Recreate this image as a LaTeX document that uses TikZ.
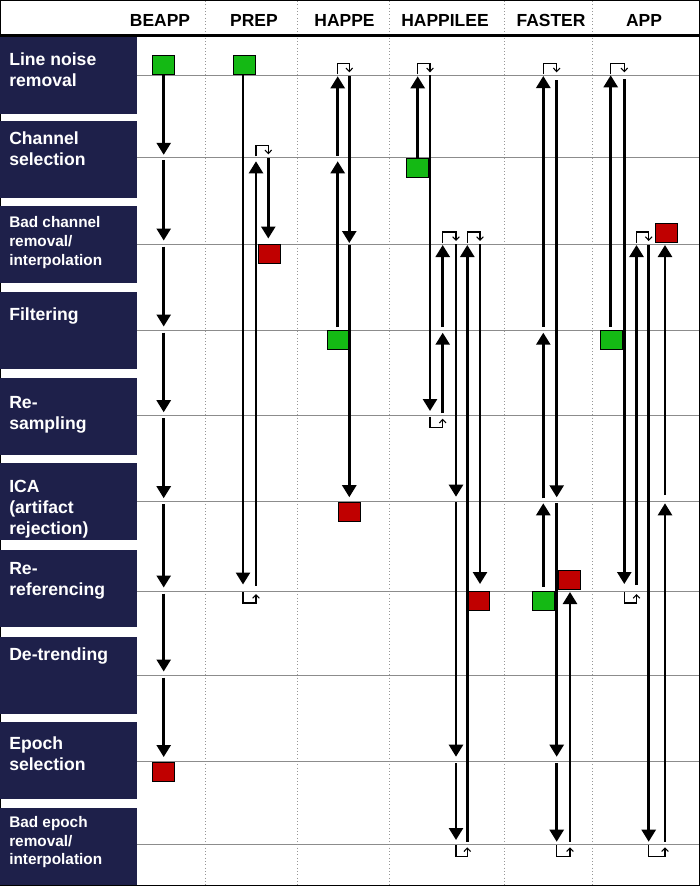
\documentclass[tikz,border=0pt]{standalone}
\usepackage{fontspec}
\setmainfont{Liberation Sans}
\usetikzlibrary{arrows.meta,calc}
\definecolor{navy}{RGB}{30,32,74}
\definecolor{gfill}{RGB}{20,185,20}
\definecolor{rfill}{RGB}{192,0,0}
\definecolor{gridgray}{RGB}{140,140,140}
\definecolor{divgray}{RGB}{150,150,150}
\newcommand\Arr[5]{\draw[mainarrow] ($(#1|-#2)+(0,#3)$) -- ($(#1|-#4)+(0,#5)$);}
\newcommand\LoopTop[3]{\draw[loopline] ($(#1|-#3)+(0,-1)$) -- ($(#1|-#3)+(0,-12)$) -| ($(#2|-#3)+(0,-3)$);}
\newcommand\LoopBot[3]{\draw[loopline] ($(#1|-#3)+(0,1)$) -- ($(#1|-#3)+(0,12)$) -| ($(#2|-#3)+(0,3)$);}
\newcommand\fst{\rule{0pt}{12pt}}
\begin{document}
\begin{tikzpicture}[x=0.75pt,y=-0.75pt,
  mainarrow/.style={line width=1.9pt,-{Triangle[width=10.5pt,length=9pt]}},
  loopline/.style={line width=0.8pt,-{Straight Barb[width=5pt,length=2.6pt,line width=0.8pt]}},
  sq/.style={draw=black,line width=0.75pt,minimum width=16.5pt,minimum height=14.25pt,inner sep=0pt},
  gsq/.style={sq,fill=gfill},
  rsq/.style={sq,fill=rfill},
  hdr/.style={font=\bfseries\fontsize{13.1}{15}\selectfont,anchor=base,inner sep=0pt},
  lab/.style={font=\bfseries\fontsize{13.2}{15.75}\selectfont,text=white,align=left,anchor=north west,inner sep=0pt},
  labs/.style={font=\bfseries\fontsize{11.5}{13.9}\selectfont,text=white,align=left,anchor=north west,inner sep=0pt},
  gridline/.style={gridgray,line width=0.75pt},
  divider/.style={divgray,line width=0.5pt,dotted},
]
\useasboundingbox (0,0) rectangle (700,886);
\fill[white] (0,0) rectangle (700,886);

% rows (step lines) and lanes
\coordinate (L0) at (0,75.3);
\coordinate (L1) at (0,157.3);
\coordinate (L2) at (0,244);
\coordinate (L3) at (0,330);
\coordinate (L4) at (0,415.7);
\coordinate (L5) at (0,501.7);
\coordinate (L6) at (0,591);
\coordinate (L7) at (0,675);
\coordinate (L8) at (0,761.5);
\coordinate (L9) at (0,844.3);

\coordinate (be) at (163.7,0);
\coordinate (prA) at (243,0);
\coordinate (prB) at (256,0);
\coordinate (prC) at (268.3,0);
\coordinate (haA) at (337.7,0);
\coordinate (haB) at (349.3,0);
\coordinate (hlA) at (417.7,0);
\coordinate (hlB) at (430,0);
\coordinate (hlC) at (442.7,0);
\coordinate (hlD) at (456,0);
\coordinate (hlE) at (467.3,0);
\coordinate (hlF) at (480,0);
\coordinate (faA) at (543.3,0);
\coordinate (faB) at (556.7,0);
\coordinate (faC) at (570,0);
\coordinate (apA) at (610.7,0);
\coordinate (apB) at (624.3,0);
\coordinate (apC) at (636.5,0);
\coordinate (apD) at (648.7,0);
\coordinate (apE) at (665,0);

% grid
\foreach \x in {205,297.5,389.5,504,592} \draw[divider] (\x,1) -- (\x,885);
\foreach \y in {75.3,157.3,244,330,415.7,501.7,591,675,761.5,844.3} \draw[gridline] (137,\y) -- (699,\y);
\draw[line width=1.1pt] (0.75,0.75) rectangle (699.25,885.25);
\draw[line width=1.6pt] (0,35.5) -- (700,35.5);

% header
\node[hdr] (hBE) at (160,26.7) {BEAPP};
\node[hdr] (hPR) at (254,26.7) {PREP};
\node[hdr] (hHA) at (344.5,26.7) {HAPPE};
\node[hdr] (hHL) at (445,26.7) {HAPPILEE};
\node[hdr] (hFA) at (551,26.7) {FASTER};
\node[hdr] (hAP) at (644,26.7) {APP};

% label blocks
\foreach \t in {36.5,121,206,292,378,463,550,636.5,721.7,807.7}
  \fill[navy] (0,\t) rectangle (137,{min(\t+77,886)});
\node[lab] (s0) at (9,49) {\fst Line noise\\removal};
\node[lab] (s1) at (9,128.3) {\fst Channel\\selection};
\node[labs] (s2) at (9,211.7) {\fst Bad channel\\removal/\\interpolation};
\node[lab] (s3) at (9,304.7) {\fst Filtering};
\node[lab] (s4) at (9,392.3) {\fst Re-\\sampling};
\node[lab] (s5) at (9,476.3) {\fst ICA\\(artifact\\rejection)};
\node[lab] (s6) at (9,558) {\fst Re-\\referencing};
\node[lab] (s7) at (9,644.7) {\fst De-trending};
\node[lab] (s8) at (9,733) {\fst Epoch\\selection};
\node[labs] (s9) at (9,811.3) {\fst Bad epoch\\removal/\\interpolation};

% squares
\node[gsq] (beG) at (163.7,65) {};
\node[rsq] (beR) at (163.7,772) {};
\node[gsq] (prG) at (244,65) {};
\node[rsq] (prR) at (269.5,254.3) {};
\node[gsq] (haG) at (338.3,340) {};
\node[rsq] (haR) at (349.7,511.7) {};
\node[gsq] (hlG) at (417.2,167.5) {};
\node[rsq] (hlR) at (478.8,601) {};
\node[gsq] (faG) at (543,601) {};
\node[rsq] (faR) at (569.5,580) {};
\node[gsq] (apG) at (611,340) {};
\node[rsq] (apR) at (666,232.8) {};

% BEAPP
\draw[mainarrow] (beG.south) -- ($(be|-L1)+(0,-2.5)$);
\Arr{be}{L1}{2.5}{L2}{-3.5}
\Arr{be}{L2}{2.5}{L3}{-3.5}
\Arr{be}{L3}{2.5}{L4}{-3.5}
\Arr{be}{L4}{2.5}{L5}{-3.5}
\Arr{be}{L5}{2.5}{L6}{-3.5}
\Arr{be}{L6}{2.5}{L7}{-3.5}
\Arr{be}{L7}{2.5}{L8}{-4.5}

% PREP
\draw[mainarrow] (prG.south -| prA) -- ($(prA|-L6)+(0,-6.5)$);
\LoopBot{prA}{prB}{L6}
\Arr{prB}{L6}{-5.5}{L1}{4}
\LoopTop{prB}{prC}{L1}
\Arr{prC}{L1}{1}{L2}{-5.5}

% HAPPE
\Arr{haA}{L3}{-3}{L1}{4}
\Arr{haA}{L1}{-1.5}{L0}{1}
\LoopTop{haA}{haB}{L0}
\Arr{haB}{L0}{1}{L2}{-1}
\Arr{haB}{L2}{0.5}{L5}{-4.5}

% HAPPILEE
\draw[mainarrow] (hlG.north -| hlA) -- ($(hlA|-L0)+(0,1)$);
\LoopTop{hlA}{hlB}{L0}
\Arr{hlB}{L0}{0}{L4}{-4.7}
\LoopBot{hlB}{hlC}{L4}
\Arr{hlC}{L4}{-2.7}{L3}{2.7}
\Arr{hlC}{L3}{-3}{L2}{1}
\LoopTop{hlC}{hlD}{L2}
\Arr{hlD}{L2}{0}{L5}{-5}
\Arr{hlD}{L5}{0.5}{L8}{-4.8}
\Arr{hlD}{L8}{1.5}{L9}{-4.3}
\LoopBot{hlD}{hlE}{L9}
\Arr{hlE}{L9}{-2.6}{L2}{1}
\LoopTop{hlE}{hlF}{L2}
\Arr{hlF}{L2}{0}{L6}{-7}

% FASTER
\Arr{faA}{L6}{-4.3}{L5}{1.6}
\Arr{faA}{L5}{-3.4}{L3}{2.7}
\Arr{faA}{L3}{-3.3}{L0}{0.7}
\LoopTop{faA}{faB}{L0}
\Arr{faB}{L0}{4.7}{L5}{-4.4}
\Arr{faB}{L5}{1.6}{L8}{-4.8}
\Arr{faB}{L8}{1.5}{L9}{-2.6}
\LoopBot{faB}{faC}{L9}
\Arr{faC}{L9}{-2.6}{L6}{1}

% APP
\Arr{apA}{L3}{-3.3}{L0}{0}
\LoopTop{apA}{apB}{L0}
\Arr{apB}{L0}{4}{L6}{-7}
\LoopBot{apB}{apC}{L6}
\Arr{apC}{L6}{-6}{L2}{1}
\LoopTop{apC}{apD}{L2}
\Arr{apD}{L2}{1}{L9}{-2.6}
\LoopBot{apD}{apE}{L9}
\Arr{apE}{L9}{-2.6}{L5}{1.6}
\Arr{apE}{L5}{-6.7}{L2}{1}
\end{tikzpicture}
\end{document}
